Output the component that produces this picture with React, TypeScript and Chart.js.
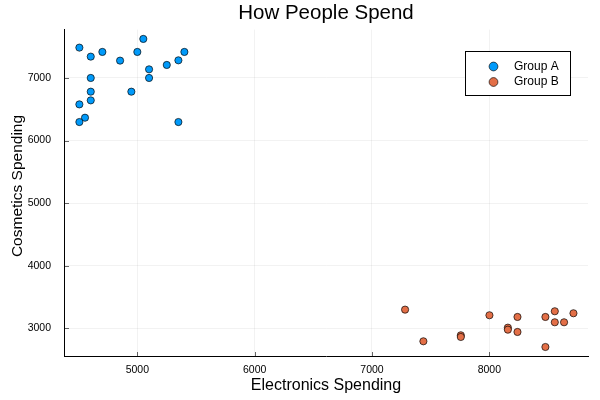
import React, { useEffect, useRef } from "react";
import { Chart, registerables } from "chart.js";

Chart.register(...registerables);

const groupAX = [4506, 4603, 4702, 4853, 5000, 5051, 5401, 5350, 5251, 5100, 5100, 4603, 4603, 4949, 4603, 4506, 4554, 4506, 5350];
const groupAY = [7485, 7341, 7416, 7277, 7416, 7624, 7416, 7282, 7208, 7138, 7000, 7000, 6781, 6781, 6642, 6578, 6365, 6296, 6296];
const groupBX = [7282, 7438, 7757, 7757, 8001, 8158, 8158, 8240, 8240, 8478, 8558, 8558, 8637, 8717, 8478];
const groupBY = [3298, 2792, 2888, 2861, 3208, 3010, 2978, 3181, 2941, 3181, 3272, 3096, 3096, 3240, 2701];
const seriesNames = ["Group A", "Group B"];
const xTicks = [5000, 6000, 7000, 8000];
const yTicks = [3000, 4000, 5000, 6000, 7000];
const xRange = [4375, 8841];
const yRange = [2557, 7773];
const yTitle = "Cosmetics Spending";

const colors = ["rgb(0,154,250)", "rgb(227,111,71)"];
const FONT = "'Liberation Sans', Arial, sans-serif";

const innerTicks = {
  id: "innerTicks",
  afterDatasetsDraw(chart: any) {
    const { ctx, chartArea, scales } = chart;
    ctx.save();
    ctx.strokeStyle = "rgba(0,0,0,0.6)";
    ctx.lineWidth = 1;
    ctx.beginPath();
    for (const v of xTicks) {
      const x = Math.round(scales.x.getPixelForValue(v)) + 0.5;
      ctx.moveTo(x, chartArea.bottom);
      ctx.lineTo(x, chartArea.bottom - 4);
    }
    for (const v of yTicks) {
      const y = Math.round(scales.y.getPixelForValue(v)) + 0.5;
      ctx.moveTo(chartArea.left, y);
      ctx.lineTo(chartArea.left + 5, y);
    }
    ctx.stroke();
    ctx.restore();
  },
};

const yTitlePlugin = {
  id: "yTitlePlugin",
  afterDraw(chart: any) {
    const { ctx } = chart;
    ctx.save();
    ctx.translate(18, 186);
    ctx.rotate(-Math.PI / 2);
    ctx.font = `15.5px ${FONT}`;
    ctx.fillStyle = "#000";
    ctx.textAlign = "center";
    ctx.textBaseline = "middle";
    ctx.fillText(yTitle, 0, 0);
    ctx.restore();
  },
};

const boxLegend = {
  id: "boxLegend",
  afterDraw(chart: any) {
    const { ctx } = chart;
    const left = 465.5, top = 51.5, w = 105, h = 44;
    ctx.save();
    ctx.fillStyle = "#fff";
    ctx.fillRect(left, top, w, h);
    ctx.strokeStyle = "#000";
    ctx.lineWidth = 1;
    ctx.strokeRect(left, top, w, h);
    ctx.font = `12px ${FONT}`;
    ctx.textBaseline = "middle";
    ctx.textAlign = "left";
    chart.data.datasets.forEach((ds: any, i: number) => {
      const y = 66.5 + i * 15.5;
      ctx.beginPath();
      ctx.arc(493.5, y, 4.4, 0, Math.PI * 2);
      ctx.fillStyle = ds.backgroundColor;
      ctx.fill();
      ctx.strokeStyle = "rgba(0,0,0,0.8)";
      ctx.lineWidth = 0.8;
      ctx.stroke();
      ctx.fillStyle = "#000";
      ctx.fillText(ds.label, 514, y);
    });
    ctx.restore();
  },
};

export default function App() {
  const ref = useRef<HTMLCanvasElement>(null);
  useEffect(() => {
    const toPts = (xs: number[], ys: number[]) => xs.map((x, i) => ({ x, y: ys[i] }));
    const chart = new Chart(ref.current!, {
      type: "scatter",
      data: {
        datasets: [
          { label: seriesNames[0], data: toPts(groupAX, groupAY), backgroundColor: colors[0], borderColor: "rgba(0,0,0,0.85)", borderWidth: 0.8, pointRadius: 3.6 },
          { label: seriesNames[1], data: toPts(groupBX, groupBY), backgroundColor: colors[1], borderColor: "rgba(0,0,0,0.85)", borderWidth: 0.8, pointRadius: 3.6 },
        ],
      },
      options: {
        animation: false,
        responsive: false,
        layout: { padding: { top: 0, right: 12, left: 0, bottom: 0 } },
        plugins: {
          legend: { display: false },
          tooltip: { enabled: false },
          title: {
            display: true,
            text: "How People Spend",
            fullSize: false,
            color: "#000",
            font: { family: FONT, size: 20.5, weight: "normal" },
            padding: { top: 1, bottom: 4 },
          },
        },
        scales: {
          x: {
            type: "linear",
            min: xRange[0],
            max: xRange[1],
            afterBuildTicks: (s: any) => { s.ticks = xTicks.map((v) => ({ value: v })); },
            afterFit: (s: any) => { s.height = 44; },
            border: { color: "#000", width: 1 },
            grid: { color: "rgba(0,0,0,0.05)", drawTicks: false },
            ticks: { color: "#000", font: { family: FONT, size: 10.5 }, padding: 7.5, maxRotation: 0, callback: (v: any) => String(v) },
            title: { display: true, text: "Electronics Spending", color: "#000", font: { family: FONT, size: 16 }, padding: { top: 0, bottom: 5 } },
          },
          y: {
            type: "linear",
            min: yRange[0],
            max: yRange[1],
            afterBuildTicks: (s: any) => { s.ticks = yTicks.map((v) => ({ value: v })); },
            afterFit: (s: any) => { s.width = 64; },
            border: { color: "#000", width: 1 },
            grid: { color: "rgba(0,0,0,0.05)", drawTicks: false },
            ticks: { color: "#000", font: { family: FONT, size: 10.5 }, padding: 13, callback: (v: any) => String(v) },
            title: { display: false },
          },
        },
      },
      plugins: [innerTicks, boxLegend, yTitlePlugin],
    });
    return () => chart.destroy();
  }, []);
  return (
    <div style={{ position: "fixed", left: 0, top: 0, width: 600, height: 400, background: "#fff" }}>
      <canvas ref={ref} width={600} height={400} style={{ width: 600, height: 400, display: "block" }} />
    </div>
  );
}
